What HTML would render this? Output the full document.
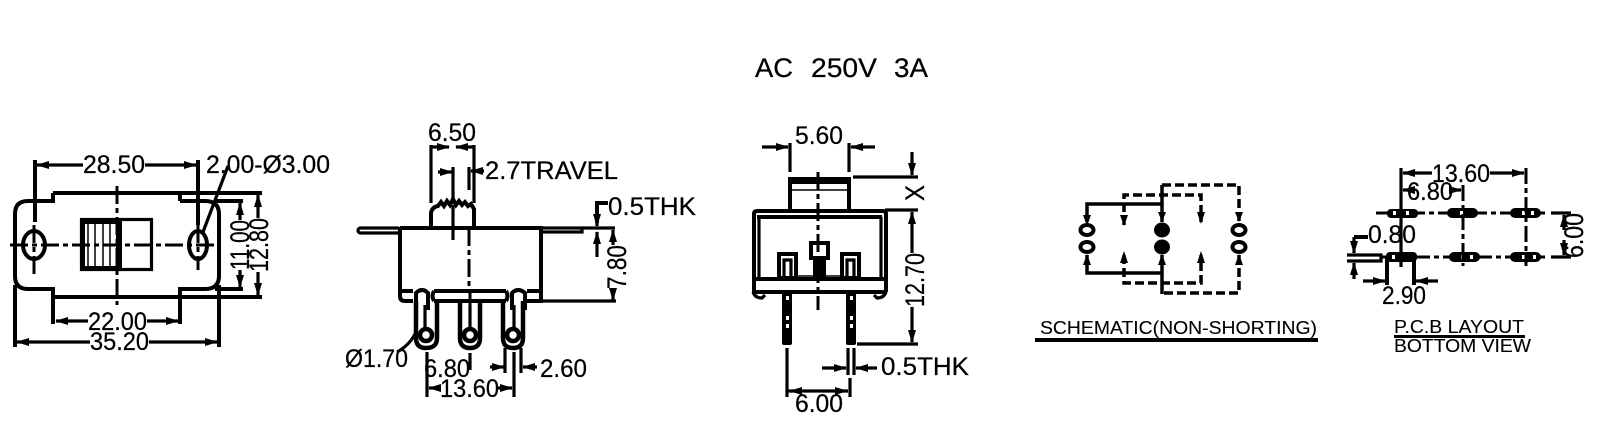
<!DOCTYPE html>
<html>
<head>
<meta charset="utf-8">
<style>
html,body{margin:0;padding:0;background:#fff;width:1606px;height:437px;overflow:hidden}
svg{display:block}
text{font-family:"Liberation Sans",sans-serif;fill:#000;font-size:25px;stroke:#000;stroke-width:.25}
.r{font-size:27px}
.l{stroke:#000;stroke-width:3.2;fill:none}
.t{stroke:#000;stroke-width:1.5;fill:none}
.k{stroke:#000;stroke-width:4;fill:none}
.c{stroke:#000;stroke-width:3;fill:none;stroke-dasharray:18 4 5 4}
.d{stroke:#000;stroke-width:3.5;fill:none;stroke-dasharray:9 4}
.a{stroke:#000;stroke-width:3.2;fill:none;marker-end:url(#m)}
</style>
</head>
<body>
<svg width="1606" height="437" viewBox="0 0 1606 437" xmlns="http://www.w3.org/2000/svg">
<defs>
<marker id="m" markerUnits="userSpaceOnUse" markerWidth="13" markerHeight="8" refX="12" refY="4" orient="auto"><path d="M0 0L13 4L0 8Z" fill="#000"/></marker>
</defs>
<rect width="1606" height="437" fill="#fff"/>

<!-- Title -->
<text x="755" y="77" style="font-size:27px" textLength="38" lengthAdjust="spacingAndGlyphs">AC</text>
<text x="811" y="77" style="font-size:27px" textLength="66" lengthAdjust="spacingAndGlyphs">250V</text>
<text x="894" y="77" style="font-size:27px" textLength="34" lengthAdjust="spacingAndGlyphs">3A</text>

<!-- View 1 -->
<path class="k" d="M53 193H180V201M53 193V201H28Q15 201 15 214V276Q15 289 28 289H53V297H180V289H205Q219 289 219 276V214Q219 201 205 201H180"/>
<path class="k" d="M180 193H262M180 297H262M215 201H243M215 289H243"/>
<rect x="81.5" y="219.5" width="70" height="50" class="l"/>
<path d="M81 219H120V224H85V266H120V271H81Z" fill="#000"/>
<rect x="116" y="219" width="6" height="52" fill="#000"/>
<path class="t" d="M88 224V266M95 224V266M103 224V266M110 224V266"/>
<path class="c" d="M10 245H221M117 186V305"/>
<ellipse cx="34" cy="245" rx="11" ry="14" class="k" fill="#fff"/>
<ellipse cx="198" cy="245" rx="9" ry="14" class="k" fill="#fff"/>
<path class="c" d="M10 245H221M34 225V275M198 225V270"/>
<path class="k" d="M35 160V222M198 160V225M53 297V324M180 297V324M15 285V347M219 285V347"/>
<path class="a" d="M83 165H37"/><path class="a" d="M145 165H196"/>
<path class="a" d="M88 321H56"/><path class="a" d="M147 321H178"/>
<path class="a" d="M90 342H17"/><path class="a" d="M149 342H217"/>
<path class="a" d="M240 220V203"/><path class="a" d="M240 270V287"/>
<path class="a" d="M258 218V195"/><path class="a" d="M258 272V295"/>
<path class="l" d="M228 166L203 232"/>
<text x="83" y="173" textLength="62" lengthAdjust="spacingAndGlyphs">28.50</text>
<text x="206" y="173" textLength="124" lengthAdjust="spacingAndGlyphs">2.00-Ø3.00</text>
<text x="88" y="330" textLength="59" lengthAdjust="spacingAndGlyphs">22.00</text>
<text x="90" y="350" textLength="59" lengthAdjust="spacingAndGlyphs">35.20</text>
<text class="r" transform="translate(249 270) rotate(-90)" textLength="50" lengthAdjust="spacingAndGlyphs">11.00</text>
<text class="r" transform="translate(268 272) rotate(-90)" textLength="54" lengthAdjust="spacingAndGlyphs">12.80</text>

<!-- View 2 -->
<path class="k" d="M431 228V213Q432 207 438 206L441 202L444 206L447 201L450 205L453 199L456 205L459 201L462 205L465 202L468 206L471 204L474 209V228"/>
<path class="l" d="M431 145V203M474 145V203M453 167V200M469 167V190M453 205V240"/>
<rect x="358" y="228" width="42" height="5" rx="2.5" class="l"/>
<rect x="541" y="228" width="41" height="4" class="l"/>
<path class="k" d="M400 228H541V292M400 228V296Q400 301 405 301H413M527 301H541V292M400 291H413M527 291H541"/>
<path class="k" d="M434 291H506M434 301H506M434 291Q431 296 434 301M506 291Q509 296 506 301"/>
<path class="k" d="M416 310V293Q422 287 428 293V310M512 310V293Q518 287 525 293V310"/>
<path class="c" d="M469 228V292M470 292V345M453 205V240"/>
<path class="k" style="stroke-width:4.5" d="M416 301V338Q416 348 426 348Q437 348 437 338V301"/>
<path class="k" style="stroke-width:4.5" d="M460 301V338Q460 348 470 348Q480 348 480 338V301"/>
<path class="k" style="stroke-width:4.5" d="M503 301V338Q503 348 513 348Q523 348 523 338V301"/>
<path class="l" d="M425 305V328M470 305V328M514 305V328"/>
<circle cx="426" cy="335" r="6" style="stroke:#000;stroke-width:4.5" fill="#fff"/>
<circle cx="470" cy="335" r="6" style="stroke:#000;stroke-width:4.5" fill="#fff"/>
<circle cx="513" cy="335" r="6" style="stroke:#000;stroke-width:4.5" fill="#fff"/>
<path class="l" d="M582 228H615M541 301H616"/>
<path class="k" d="M597 223V203H608"/>
<path class="a" d="M597 205V226"/>
<path class="a" d="M597 257V232"/>
<path class="a" d="M613 245V230"/><path class="a" d="M613 288V300"/>
<path class="a" d="M432 147H449"/><path class="a" d="M473 147H456"/>
<path class="a" d="M438 172H452"/><path class="a" d="M484 171H471"/>
<path class="l" d="M427 352V397M514 352V397M470 353V370M505 348V373M521 348V373M397 352Q410 345 416 332"/>
<path class="a" d="M490 367H504"/><path class="a" d="M537 367H523"/>
<path class="a" d="M441 388H429"/><path class="a" d="M498 388H512"/>
<text x="428" y="141" textLength="48" lengthAdjust="spacingAndGlyphs">6.50</text>
<text x="485" y="179" textLength="133" lengthAdjust="spacingAndGlyphs">2.7TRAVEL</text>
<text x="608" y="215" textLength="88" lengthAdjust="spacingAndGlyphs">0.5THK</text>
<text class="r" transform="translate(626 289) rotate(-90)" textLength="44" lengthAdjust="spacingAndGlyphs">7.80</text>
<text x="345" y="367" textLength="63" lengthAdjust="spacingAndGlyphs">Ø1.70</text>
<text x="424" y="377" textLength="46" lengthAdjust="spacingAndGlyphs">6.80</text>
<text x="440" y="397" textLength="59" lengthAdjust="spacingAndGlyphs">13.60</text>
<text x="540" y="377" textLength="47" lengthAdjust="spacingAndGlyphs">2.60</text>

<!-- View 3 -->
<path class="k" d="M790 210V179H849V210"/>
<path class="k" d="M790 182H849"/><path class="t" d="M790 190H849"/>
<path class="k" d="M754 292V214Q754 211 757 211H883Q886 211 886 214V292"/>
<path class="k" d="M757 217H882"/>
<path class="l" d="M759 217V278M881 217V278"/>
<path class="k" d="M752 279H887M752 292H887"/>
<path class="l" d="M753 292Q755 298 762 298L765 295M886 292Q884 298 877 298L874 295"/>
<rect x="779" y="254" width="17" height="24" class="k" fill="#fff"/>
<rect x="842" y="254" width="17" height="24" class="k" fill="#fff"/>
<path class="l" d="M784 278V260H791V278M847 278V260H854V278"/>
<rect x="811" y="243" width="17" height="15" class="k" fill="#fff"/>
<rect x="813" y="258" width="13" height="20" fill="#000"/>
<path class="t" d="M798 276H814M825 276H840"/>
<rect x="782" y="292" width="10" height="53" rx="2" fill="#000"/>
<rect x="846" y="292" width="10" height="53" rx="2" fill="#000"/>
<path d="M786 296h3v4h-3zM786 316h3v4h-3zM786 324h3v4h-3zM850 296h3v4h-3zM850 316h3v4h-3zM850 324h3v4h-3z" fill="#fff"/>
<path class="c" d="M818 172V310"/>
<path class="l" d="M790 143V172M849 143V172M853 177H918M885 210H918M857 344H918"/>
<path class="a" d="M762 147H788"/><path class="a" d="M875 147H851"/>
<path class="a" d="M912 152V175"/>
<path class="a" d="M912 253V212"/><path class="a" d="M912 307V342"/>
<path class="l" d="M848 348V375M854 348V375M787 348V397M850 378V397"/>
<path class="a" d="M822 368H846"/><path class="a" d="M877 368H856"/>
<path class="l" d="M787 391H848"/>
<path d="M789 391l13-4v8zM848 391l-13-4v8z" fill="#000"/>
<text x="795" y="144" textLength="48" lengthAdjust="spacingAndGlyphs">5.60</text>
<text class="r" transform="translate(924 201) rotate(-90)" textLength="16" lengthAdjust="spacingAndGlyphs">X</text>
<text class="r" transform="translate(924 307) rotate(-90)" textLength="54" lengthAdjust="spacingAndGlyphs">12.70</text>
<text x="881" y="375" textLength="88" lengthAdjust="spacingAndGlyphs">0.5THK</text>
<text x="795" y="412" textLength="48" lengthAdjust="spacingAndGlyphs">6.00</text>

<!-- Schematic -->
<path class="l" style="stroke-width:3.5" d="M1087 222V204H1162M1162 185V222M1087 255V273H1162M1162 255V294"/>
<path class="d" d="M1162 185H1239V222M1239 255V293H1162M1124 225V195H1201V222M1124 255V283H1201V255"/>
<path d="M1083 215L1087 226L1091 215ZM1120 215L1124 226L1128 215ZM1158 212L1162 222L1166 212ZM1197 212L1201 224L1205 212ZM1235 212L1239 222L1243 212ZM1083 265L1087 254L1091 265ZM1120 263L1124 251L1128 263ZM1158 265L1162 254L1166 265ZM1197 263L1201 251L1205 263ZM1235 265L1239 254L1243 265Z" fill="#000"/>
<ellipse cx="1087" cy="230" rx="6.5" ry="5" class="k" fill="#fff"/>
<ellipse cx="1087" cy="247" rx="6.5" ry="5" class="k" fill="#fff"/>
<ellipse cx="1239" cy="230" rx="6.5" ry="5" class="k" fill="#fff"/>
<ellipse cx="1239" cy="247" rx="6.5" ry="5" class="k" fill="#fff"/>
<ellipse cx="1162" cy="230" rx="8" ry="7.5" fill="#000"/>
<ellipse cx="1162" cy="247" rx="8" ry="7.5" fill="#000"/>
<text x="1040" y="334" style="font-size:18px;stroke-width:.1" textLength="277" lengthAdjust="spacingAndGlyphs">SCHEMATIC(NON-SHORTING)</text>
<rect x="1035" y="338" width="283" height="4" fill="#000"/>

<!-- PCB -->
<path class="c" d="M1376 213H1545M1381 257H1545"/>
<path class="l" d="M1551 213H1571M1551 257H1571"/>
<rect x="1387" y="209" width="31" height="9" rx="4" fill="#000"/>
<rect x="1447" y="208" width="31" height="10" rx="5" fill="#000"/>
<rect x="1510" y="208" width="31" height="10" rx="5" fill="#000"/>
<rect x="1386" y="252" width="31" height="10" rx="4" fill="#000"/>
<rect x="1449" y="252" width="31" height="10" rx="5" fill="#000"/>
<rect x="1510" y="252" width="31" height="10" rx="5" fill="#000"/>
<path d="M1393 211h3v4h-3zM1406 211h3v4h-3zM1460 211h3v4h-3zM1522 211h3v4h-3zM1531 211h3v4h-3zM1392 255h3v4h-3zM1461 255h3v4h-3zM1470 255h3v4h-3zM1522 255h3v4h-3zM1533 255h3v4h-3z" fill="#fff"/>
<path class="l" d="M1401 168V267"/>
<path class="c" d="M1463 185V266M1526 168V266" style="stroke-dasharray:16 4 5 4"/>
<path class="a" d="M1432 173H1403"/><path class="a" d="M1490 173H1524"/>
<path class="a" d="M1414 190H1403"/><path class="a" d="M1453 190H1461"/>
<path class="k" d="M1354 237H1368"/>
<path class="a" d="M1354 237V253"/>
<path class="a" d="M1354 279V263"/>
<path class="l" d="M1347 255H1381V261H1347"/>
<path class="k" d="M1387 257V285M1414 257V285"/>
<path class="a" d="M1363 281H1385"/><path class="a" d="M1438 281H1416"/>
<text x="1432" y="182" textLength="58" lengthAdjust="spacingAndGlyphs">13.60</text>
<text x="1407" y="200" textLength="46" lengthAdjust="spacingAndGlyphs">6.80</text>
<text x="1368" y="243" textLength="48" lengthAdjust="spacingAndGlyphs">0.80</text>
<text x="1382" y="304" textLength="44" lengthAdjust="spacingAndGlyphs">2.90</text>
<text class="r" transform="translate(1583 258) rotate(-90)" textLength="45" lengthAdjust="spacingAndGlyphs">6.00</text>
<path class="a" d="M1564 230V215"/><path class="a" d="M1564 240V255"/>
<text x="1394" y="333" style="font-size:18px;stroke-width:.1" textLength="130" lengthAdjust="spacingAndGlyphs">P.C.B LAYOUT</text>
<rect x="1394" y="335" width="131" height="3" fill="#000"/>
<text x="1394" y="352" style="font-size:18px;stroke-width:.1" textLength="137" lengthAdjust="spacingAndGlyphs">BOTTOM VIEW</text>
</svg>
</body>
</html>
